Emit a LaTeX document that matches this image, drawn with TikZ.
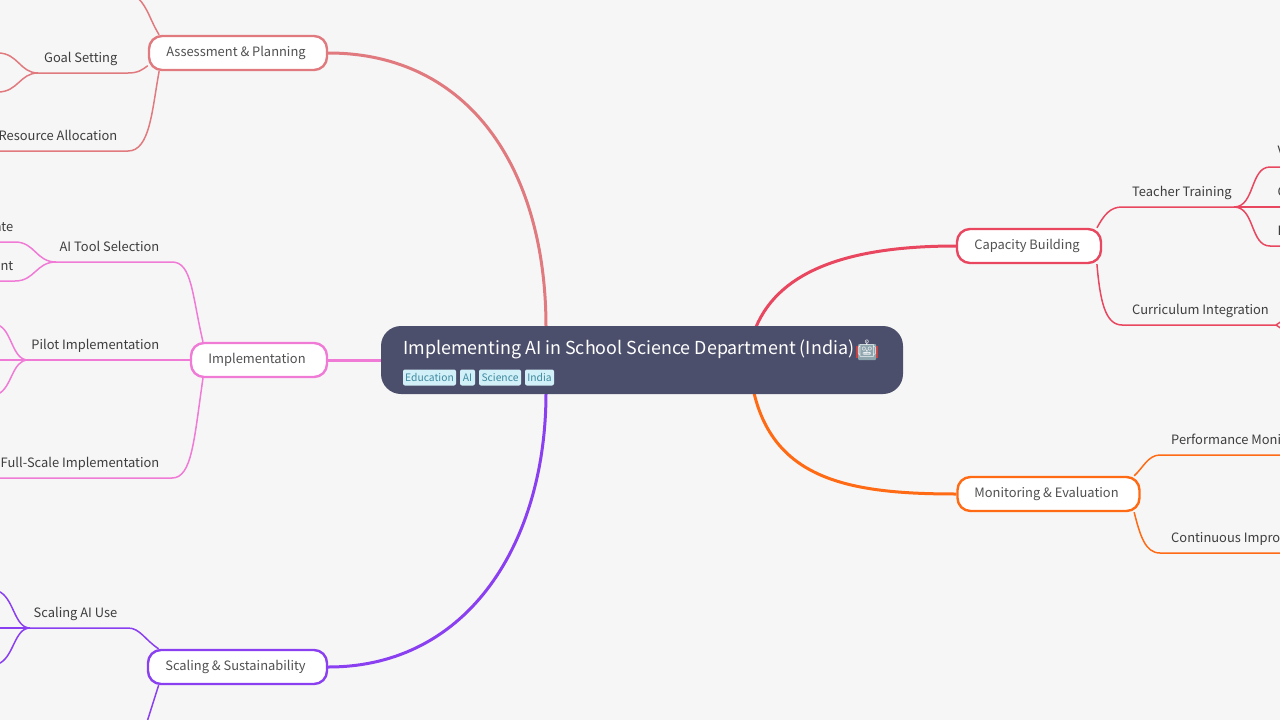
\documentclass[tikz,border=0pt]{standalone}
\usepackage{fontspec}
\setmainfont{Noto Sans CJK SC}
\newfontfamily\emojifont{Noto Emoji}
\usetikzlibrary{backgrounds}
\definecolor{paper}{HTML}{F6F6F6}
\definecolor{rootfill}{HTML}{4C4F6B}
\definecolor{tagfill}{HTML}{D2F0F8}
\definecolor{tagtext}{HTML}{3F8A9F}
\definecolor{inktext}{HTML}{3E3E3E}
\definecolor{assesscol}{HTML}{E07A7F}
\definecolor{implcol}{HTML}{F07BD6}
\definecolor{scalecol}{HTML}{8A3FF0}
\definecolor{capcol}{HTML}{E8475F}
\definecolor{moncol}{HTML}{FF6A14}
\definecolor{robothead}{HTML}{8FA5AE}
\definecolor{robotear}{HTML}{C8403F}
\begin{document}
\begin{tikzpicture}[x=1pt, y=-1pt]
	\tikzstyle{topic} = [draw, fill=white, line width=2.4pt, rounded corners=13pt, minimum height=34pt, inner sep=0pt, text height=11pt, text depth=3.6pt, text=inktext!90!white, font=\fontsize{12.9}{15}\selectfont, execute at end node={\hspace{4pt}}]
	\tikzstyle{leftlabel} = [anchor=base east, inner sep=0pt, text=inktext, font=\fontsize{12.9}{15}\selectfont]
	\tikzstyle{rightlabel} = [anchor=base west, inner sep=0pt, text=inktext, font=\fontsize{12.9}{15}\selectfont]
	\tikzstyle{tag} = [fill=tagfill, rounded corners=2pt, minimum height=16pt, inner sep=0pt, text=tagtext, font=\fontsize{10.3}{12}\selectfont]
	\tikzstyle{trunk} = [line width=3pt]
	\tikzstyle{twig} = [line width=1.5pt]
	\useasboundingbox (0,0) rectangle (1280,720);
	\node (Root) at (642,360) [fill=rootfill, rounded corners=20pt, minimum width=522pt, minimum height=68pt, inner sep=0pt] {};
	\node (RootText) at (403,349) [anchor=west, inner sep=0pt, text=white, font=\fontsize{17.9}{21}\selectfont] {Implementing AI in School Science Department (India)};
	\node (Ears) at (867,352) [fill=robotear, minimum width=22pt, minimum height=12pt, inner sep=0pt] {};
	\node (Head) at (867,352) [fill=robothead, minimum width=18pt, minimum height=16pt, inner sep=0pt, rounded corners=1pt] {};
	\node (Robot) at (867,349) [inner sep=0pt, text=white!85!robothead, font=\emojifont\fontsize{17}{20}\selectfont] {🤖};
	\node (T1) at (429.5,377.5) [tag, minimum width=53pt] {Education};
	\node (T2) at (467.5,377.5) [tag, minimum width=15pt] {AI};
	\node (T3) at (500,377.5) [tag, minimum width=42pt] {Science};
	\node (T4) at (539.5,377.5) [tag, minimum width=29pt] {India};
	\node (A0) at (238,53) [topic, draw=assesscol, minimum width=178pt] {Assessment \& Planning};
	\node (I0) at (259,360) [topic, draw=implcol, minimum width=136pt] {Implementation};
	\node (S0) at (237.5,667) [topic, draw=scalecol, minimum width=179pt] {Scaling \& Sustainability};
	\node (C0) at (1029,246) [topic, draw=capcol, minimum width=144pt] {Capacity Building};
	\node (M0) at (1048.5,494) [topic, draw=moncol, minimum width=182pt] {Monitoring \& Evaluation};
	\node (A1) at (117.5,62.5) [leftlabel] {Goal Setting};
	\node (A2) at (117.5,140.5) [leftlabel] {Resource Allocation};
	\node (I1) at (159.5,251.5) [leftlabel] {AI Tool Selection};
	\node (I2) at (159.5,349.5) [leftlabel] {Pilot Implementation};
	\node (I3) at (159.5,467.5) [leftlabel] {Full-Scale Implementation};
	\node (I4) at (13.5,231.5) [leftlabel] {ate};
	\node (I5) at (13.5,270.5) [leftlabel] {nt};
	\node (S1) at (117.5,617.5) [leftlabel] {Scaling AI Use};
	\node (C1) at (1132,196.5) [rightlabel] {Teacher Training};
	\node (C2) at (1132,314.5) [rightlabel] {Curriculum Integration};
	\node (C3) at (1277.5,155) [rightlabel] {V};
	\node (C4) at (1277.5,196) [rightlabel] {C};
	\node (C5) at (1277.5,235) [rightlabel] {I};
	\node (M1) at (1171,444.5) [rightlabel] {Performance Moni};
	\node (M2) at (1171,542.5) [rightlabel] {Continuous Impro};
	\coordinate (RA) at (546,327);
	\coordinate (RS) at (546,393);
	\coordinate (RC) at (756,327);
	\coordinate (RM) at (754,393);
	\coordinate (A1J) at (38,73);
	\coordinate (I1J) at (56,262);
	\coordinate (I2J) at (28,360);
	\coordinate (S1J) at (30,628);
	\coordinate (C1J) at (1234,207);
	\coordinate (C2J) at (1276,325);
	\begin{scope}[on background layer]
	\fill [paper] (0,0) rectangle (1280,720);
	\draw [trunk, assesscol] (A0.east) .. controls (470,53) and (546,170) .. (RA);
	\draw [trunk, implcol] (I0.east) -- (Root.west);
	\draw [trunk, scalecol] (S0.east) .. controls (470,667) and (546,540) .. (RS);
	\draw [trunk, capcol] (C0.west) .. controls (850,246) and (780,270) .. (RC);
	\draw [trunk, moncol] (M0.west) .. controls (850,494) and (775,480) .. (RM);
	\draw [twig, assesscol] (A0.167) .. controls (150,20) and (148,8) .. (138,-2);
	\draw [twig, assesscol] (A0.188) .. controls (142,70) and (138,73) .. (128,73) -- (A1J);
	\draw [twig, assesscol] (A0.193) .. controls (152,110) and (150,151) .. (128,151) -- (-2,151);
	\draw [twig, assesscol] (A1J) .. controls (20,73) and (18,53) .. (-2,53);
	\draw [twig, assesscol] (A1J) .. controls (20,73) and (18,92) .. (-2,92);
	\draw [twig, implcol] (I0.162) .. controls (192,295) and (192,262) .. (172,262) -- (I1J);
	\draw [twig, implcol] (I0.west) -- (I2J);
	\draw [twig, implcol] (I0.198) .. controls (194,440) and (192,478) .. (172,478) -- (-2,478);
	\draw [twig, implcol] (I1J) .. controls (36,262) and (35,242) .. (15,242) -- (-2,242);
	\draw [twig, implcol] (I1J) .. controls (36,262) and (35,281) .. (15,281) -- (-2,281);
	\draw [twig, implcol] (I2J) .. controls (12,360) and (12,330) .. (-2,325);
	\draw [twig, implcol] (I2J) -- (-2,360);
	\draw [twig, implcol] (I2J) .. controls (12,360) and (12,388) .. (-2,394);
	\draw [twig, scalecol] (S0.167) .. controls (145,640) and (140,628) .. (128,628) -- (S1J);
	\draw [twig, scalecol] (S1J) .. controls (14,628) and (14,597) .. (-2,591);
	\draw [twig, scalecol] (S1J) -- (-2,628);
	\draw [twig, scalecol] (S1J) .. controls (14,628) and (14,658) .. (-2,664);
	\draw [twig, scalecol] (S0.193) -- (147,722);
	\draw [twig, capcol] (C0.15) .. controls (1104,215) and (1110,207) .. (1122,207) -- (C1J);
	\draw [twig, capcol] (C0.-15) .. controls (1100,300) and (1105,325) .. (1122,325) -- (C2J);
	\draw [twig, capcol] (C1J) .. controls (1255,207) and (1250,167) .. (1270,167) -- (1282,167);
	\draw [twig, capcol] (C1J) -- (1282,207);
	\draw [twig, capcol] (C1J) .. controls (1255,207) and (1250,246) .. (1270,246) -- (1282,246);
	\draw [twig, capcol] (C2J) -- (1282,321);
	\draw [twig, capcol] (C2J) -- (1282,329);
	\draw [twig, moncol] (M0.12) .. controls (1143,468) and (1148,455) .. (1160,455) -- (1282,455);
	\draw [twig, moncol] (M0.-12) .. controls (1140,535) and (1145,553) .. (1160,553) -- (1282,553);
	\end{scope}
\end{tikzpicture}
\end{document}
